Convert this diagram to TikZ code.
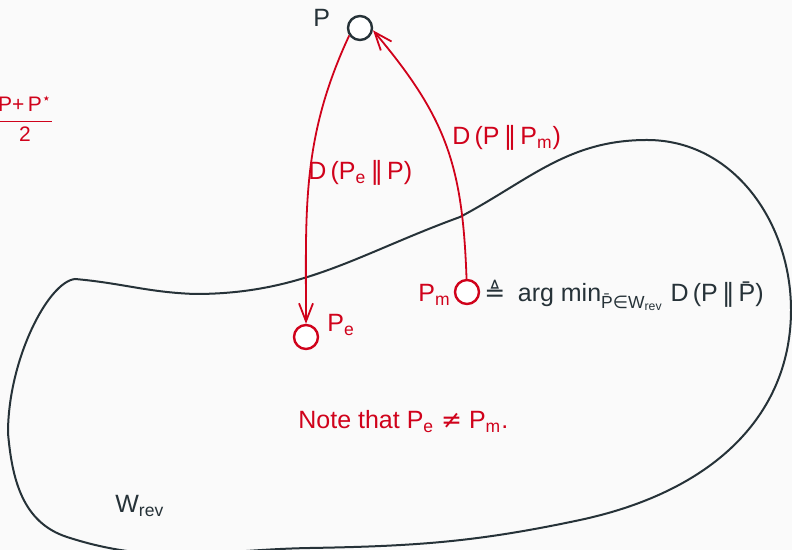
\documentclass[tikz,border=0pt]{standalone}
\usepackage{fontspec}
\setmainfont{Liberation Sans}
\newfontfamily\symfont{DejaVu Sans}
\usetikzlibrary{positioning,arrows.meta}

\definecolor{inkred}{RGB}{208,2,27}
\definecolor{inkdark}{RGB}{38,50,56}
\definecolor{paper}{RGB}{250,250,250}
\newcommand{\sub}[1]{\textsubscript{#1}}
\newcommand{\dvg}{\,{\symfont ‖}\,}

\begin{document}
\begin{tikzpicture}[
  x=0.5pt, y=0.5pt,
  font=\fontsize{12.5}{15}\selectfont,
  dot/.style={
    circle,
    draw,
    fill=white,
    minimum size=12pt,
    inner sep=0pt,
    line width=1.2pt
  },
  redtxt/.style={text=inkred, inner sep=0pt},
  darktxt/.style={text=inkdark, inner sep=0pt},
  link/.style={-{Straight Barb[length=9pt,width=7pt]}, draw=inkred, line width=0.9pt},
  region/.style={draw=inkdark, line width=1pt}
]
\fill[paper] (0,0) rectangle (792,550);
\useasboundingbox (0,0) rectangle (792,550);

% the region W_rev
\draw[region] (75,271) to[out=-5, in=178] (195,256)
  to[out=0, in=200] (460,333)
  to[out=28, in=180] (647,410)
  to[out=0, in=90] (791,240)
  .. controls (791,140) and (720,60) .. (580,30)
  to[out=192, in=1] (310,2)
  to[out=181, in=-18] (67,13)
  to[out=162, in=-85] (8,117)
  .. controls (8,190) and (48,268) .. (75,271) -- cycle;
\node[darktxt, anchor=base west] (wlbl) at (115,37) {W\sub{rev}};

% the three points
\node[dot, draw=inkdark] (p) at (360,522) {};
\node[dot, draw=inkred] (pe) at (306,213) {};
\node[dot, draw=inkred] (pm) at (467,258) {};

\node[darktxt, anchor=base west] (plbl) at (313,523) {P};
\node[redtxt, anchor=base west] (pelbl) at (327,218) {P\sub{e}};
\node[redtxt, anchor=base east] (pmlbl) at (451,248) {P\sub{m}};
\node[darktxt, anchor=base west] (def) at (484,248)
  {{\symfont ≜}\hspace{0.5em}arg min\sub{\={P}{\symfont ∈}W\sub{rev}} D\,(P\dvg\={P})};

% the two divergences
\draw[link] (p.215) to[out=245, in=90] (pe.90);
\draw[link] (pm.92) to[out=92, in=-50, looseness=1.1] (p.-10);
\node[redtxt, anchor=base west] (dfwd) at (308,370) {D\,(P\sub{e}\dvg P)};
\node[redtxt, anchor=base west] (drev) at (452,405) {D\,(P\dvg P\sub{m})};

% mixture and remark
\node[redtxt] (mix) at (25,431)
  {\fontsize{10.5}{12}\selectfont$\displaystyle\frac{\mbox{P+\,P\textsuperscript{\symfont ⋆}}}{\mbox{2}}$};
\node[redtxt, anchor=base west] (note) at (298,121)
  {Note that P\sub{e} {\symfont ≠} P\sub{m}.};
\end{tikzpicture}
\end{document}
